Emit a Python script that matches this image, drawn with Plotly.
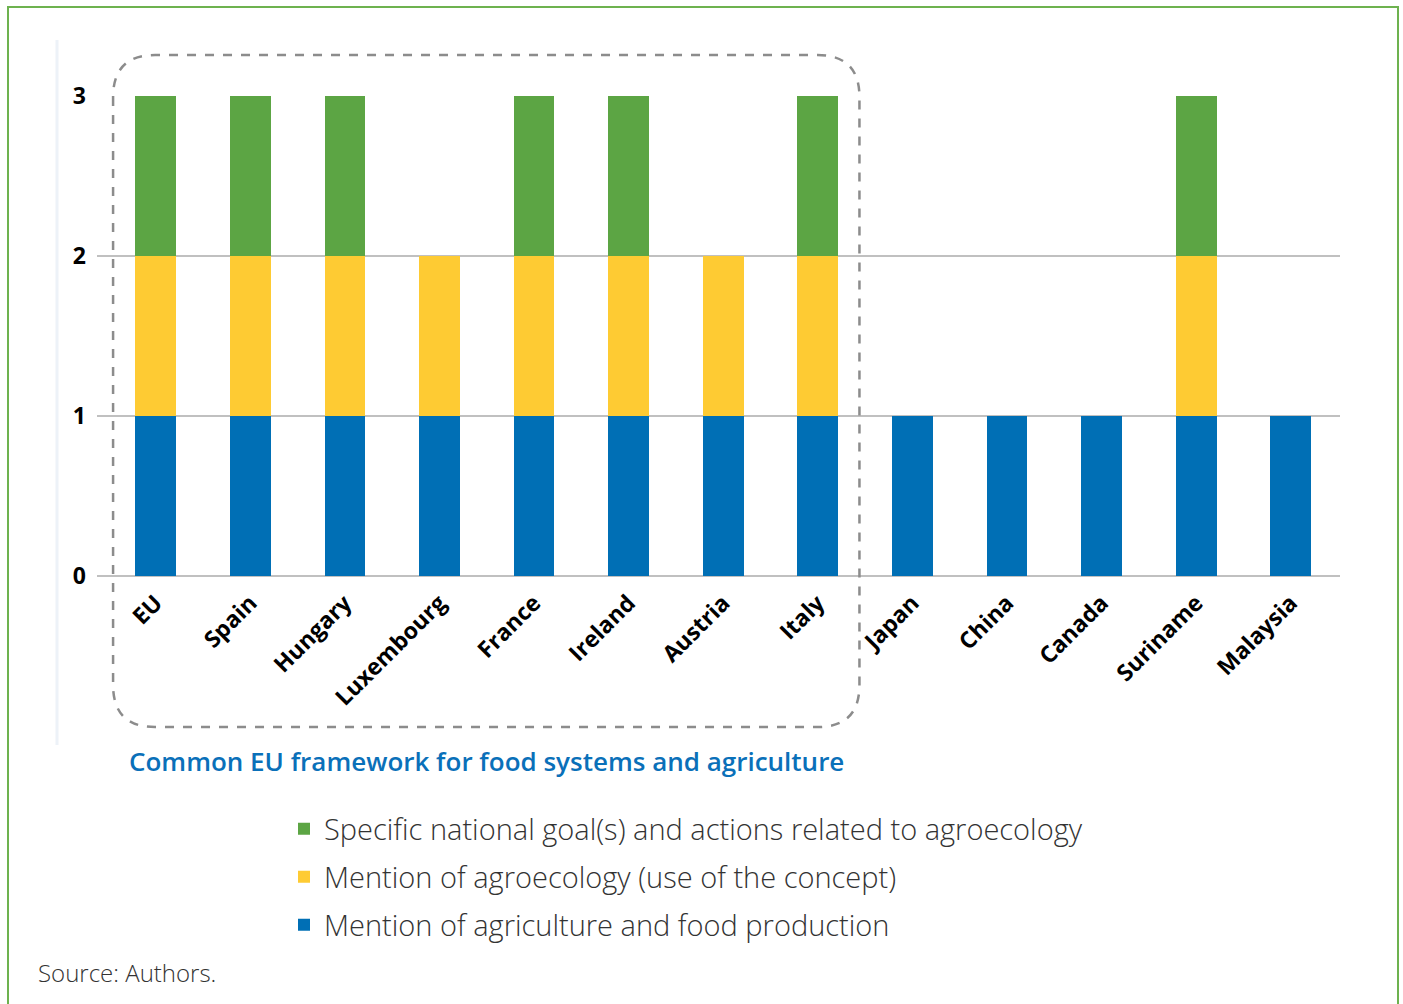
import plotly.graph_objects as go

countries = ["EU", "Spain", "Hungary", "Luxembourg", "France", "Ireland", "Austria", "Italy",
             "Japan", "China", "Canada", "Suriname", "Malaysia"]
agri_food = [1, 1, 1, 1, 1, 1, 1, 1, 1, 1, 1, 1, 1]
agroeco_mention = [1, 1, 1, 1, 1, 1, 1, 1, 0, 0, 0, 1, 0]
national_goals = [1, 1, 1, 0, 1, 1, 0, 1, 0, 0, 0, 1, 0]
eu_group = countries[:8]

series_names = ["Mention of agriculture and food production",
                "Mention of agroecology (use of the concept)",
                "Specific national goal(s) and actions related to agroecology"]
colors = ["#006fb5", "#fecb33", "#5ca544"]

W, H = 1403, 1004
ML, MR, MT, MB = 97, 63, 96, 428
PW, PH = W - ML - MR, H - MT - MB
XR = [-0.62, 12.52]
YR = [0, 3]

def px_x(px):
    return (px - ML) / PW

def px_y(py):
    return (H - MB - py) / PH

def dx(v):
    return (v - XR[0]) / (XR[1] - XR[0])

def dy(v):
    return (v - YR[0]) / (YR[1] - YR[0])

fig = go.Figure()
legends = ["legend3", "legend2", "legend"]
for vals, name, col, lg in zip([agri_food, agroeco_mention, national_goals], series_names, colors, legends):
    fig.add_trace(go.Bar(x=countries, y=vals, name=name, marker=dict(color=col, line=dict(width=0)),
                         legend=lg))

leg_font = dict(family="Open Sans", size=29, color="#333333", weight=300)
leg_common = dict(x=px_x(284), xanchor="left", yanchor="middle", font=leg_font,
                  bgcolor="rgba(0,0,0,0)", itemwidth=30)

fig.update_layout(
    width=W, height=H,
    margin=dict(l=ML, r=MR, t=MT, b=MB, autoexpand=False),
    barmode="stack", bargap=0.57,
    plot_bgcolor="white", paper_bgcolor="white",
    xaxis=dict(type="category", range=XR, showgrid=False, showline=False, zeroline=False,
               tickangle=-45, ticks="", ticklabelstandoff=8,
               tickfont=dict(family="Open Sans", size=23, color="black", weight=700)),
    yaxis=dict(range=YR, tickvals=[0, 1, 2, 3], showgrid=True, gridcolor="#c0c0c0", gridwidth=2,
               zeroline=True, zerolinecolor="#c0c0c0", zerolinewidth=2, showline=False,
               ticks="", ticklabelstandoff=10,
               tickfont=dict(family="Open Sans", size=23, color="black", weight=700)),
    legend=dict(y=px_y(829), **leg_common),
    legend2=dict(y=px_y(877), **leg_common),
    legend3=dict(y=px_y(925), **leg_common),
    showlegend=True,
)

# Dashed rounded box around EU framework group
i0, i1 = countries.index(eu_group[0]), countries.index(eu_group[-1])
bx0, bx1 = dx(i0 - 0.45), dx(i1 + 0.44)
by0, by1 = dy(-0.944), dy(3.256)
rx, ry = 42 / PW, 42 / PH
path = (f"M{bx0},{by1 - ry} L{bx0},{by0 + ry} Q{bx0},{by0} {bx0 + rx},{by0} "
        f"L{bx1 - rx},{by0} Q{bx1},{by0} {bx1},{by0 + ry} L{bx1},{by1 - ry} "
        f"Q{bx1},{by1} {bx1 - rx},{by1} L{bx0 + rx},{by1} Q{bx0},{by1} {bx0},{by1 - ry} Z")
fig.add_shape(type="path", path=path, xref="paper", yref="paper",
              line=dict(color="#8c8c8c", width=2.5, dash="dash"), layer="above")

# outer green frame
fig.add_shape(type="rect", xref="paper", yref="paper",
              x0=px_x(8), x1=px_x(1398), y0=px_y(1010), y1=px_y(7),
              line=dict(color="#6db24f", width=2), layer="below")
# faint vertical line
fig.add_shape(type="line", xref="paper", yref="paper",
              x0=px_x(57), x1=px_x(57), y0=px_y(745), y1=px_y(40),
              line=dict(color="#edf2f8", width=3), layer="below")

fig.add_annotation(text="Common EU framework for food systems and agriculture",
                   xref="paper", yref="paper", x=px_x(486), y=px_y(761),
                   xanchor="center", yanchor="middle", showarrow=False,
                   font=dict(family="Open Sans", size=26, color="#0a70b9", weight=600))
fig.add_annotation(text="Source: Authors.", xref="paper", yref="paper",
                   x=px_x(36), y=px_y(972), xanchor="left", yanchor="middle", showarrow=False,
                   font=dict(family="Open Sans", size=24, color="#333333", weight=300))

fig.write_html("out.html")
